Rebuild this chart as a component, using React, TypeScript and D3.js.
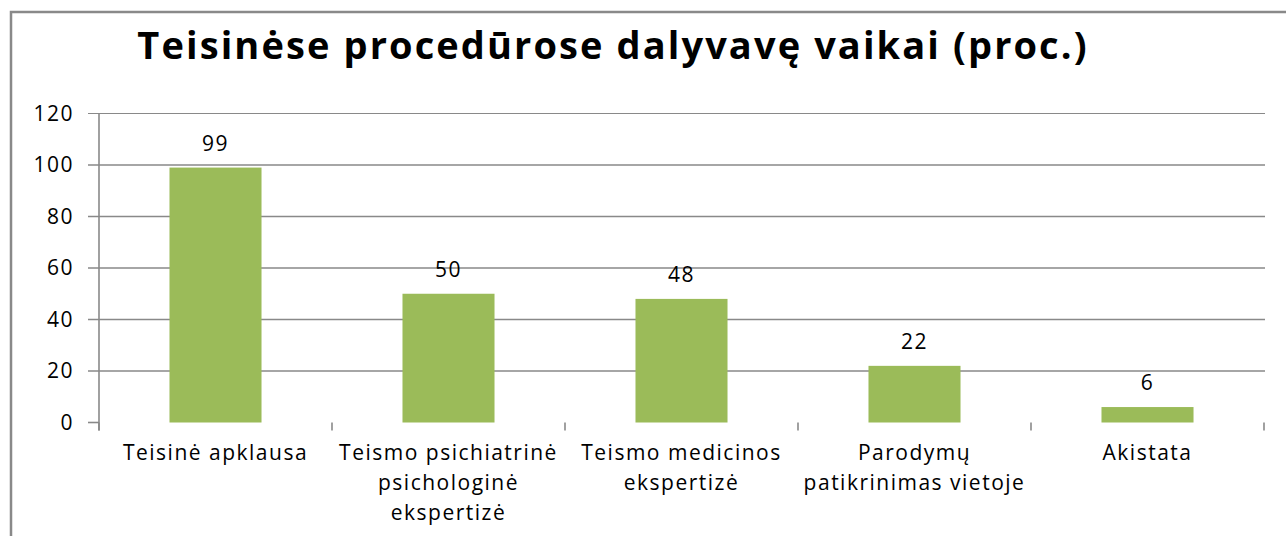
import React from 'react';
import * as d3 from 'd3';

const title = 'Teisinėse procedūrose dalyvavę vaikai (proc.)';
const categories = [
  'Teisinė apklausa',
  'Teismo psichiatrinė psichologinė ekspertizė',
  'Teismo medicinos ekspertizė',
  'Parodymų patikrinimas vietoje',
  'Akistata',
];
const categoryLines = [
  ['Teisinė apklausa'],
  ['Teismo psichiatrinė', 'psichologinė', 'ekspertizė'],
  ['Teismo medicinos', 'ekspertizė'],
  ['Parodymų', 'patikrinimas vietoje'],
  ['Akistata'],
];
const values = [99, 50, 48, 22, 6];
const yTicks = [0, 20, 40, 60, 80, 100, 120];

const W = 1286, H = 536;
const left = 99, right = 1264, top = 113.5, bottom = 422.5;
const font = '"Open Sans", Lato, sans-serif';
const grey = '#898989';

const App = () => {
  const x = d3.scaleBand<string>().domain(categories).range([left, right]).padding(0);
  const y = d3.scaleLinear().domain([0, 120]).range([bottom, top]);
  const barW = x.bandwidth() * 0.395;
  const boundaries = categories.map(c => x(c) as number).concat([right]);

  return (
    <svg width={W} height={H} style={{ position: 'absolute', left: 0, top: 0, background: '#fff' }}>
      {/* frame */}
      <path d={`M11,${H} V12 H${W}`} fill="none" stroke={grey} strokeWidth={2.5} />
      <text x={613} y={59} textAnchor="middle" fontFamily={font} fontWeight="bold" fontSize={38}
        letterSpacing={2.1} fill="#000">
        {title}
      </text>

      {/* gridlines and y labels */}
      {yTicks.map(t => (
        <g key={t}>
          {t > 0 && (
            <line x1={88} x2={right + 1} y1={y(t)} y2={y(t)} stroke={grey} strokeWidth={t === 120 ? 1 : 1.6} />
          )}
          {t === 0 && <line x1={88} x2={left} y1={y(t)} y2={y(t)} stroke={grey} strokeWidth={1.6} />}
          <text x={74} y={y(t)} dy="0.35em" textAnchor="end" fontFamily={font} fontSize={21}
            letterSpacing={1.5} fill="#000">
            {t}
          </text>
        </g>
      ))}

      {/* y axis */}
      <line x1={left} x2={left} y1={top} y2={bottom + 8} stroke={grey} strokeWidth={1.6} />
      {boundaries.map((b, i) => (
        <line key={i} x1={b} x2={b} y1={bottom} y2={bottom + 8} stroke={grey} strokeWidth={1.6} />
      ))}

      {/* bars */}
      {categories.map((c, i) => {
        const cx = (x(c) as number) + x.bandwidth() / 2;
        return (
          <g key={c}>
            <rect x={cx - barW / 2} y={y(values[i])} width={barW} height={bottom - y(values[i])} fill="#9BBB59" />
            <text x={cx} y={y(values[i]) - 17} textAnchor="middle" fontFamily={font} fontSize={21}
              letterSpacing={1.5} fill="#000">
              {values[i]}
            </text>
            <text x={cx} y={460} textAnchor="middle" fontFamily={font} fontSize={21}
              letterSpacing={1.5} fill="#000">
              {categoryLines[i].map((l, j) => (
                <tspan key={j} x={cx} dy={j === 0 ? 0 : 30}>{l}</tspan>
              ))}
            </text>
          </g>
        );
      })}
    </svg>
  );
};

export default App;
